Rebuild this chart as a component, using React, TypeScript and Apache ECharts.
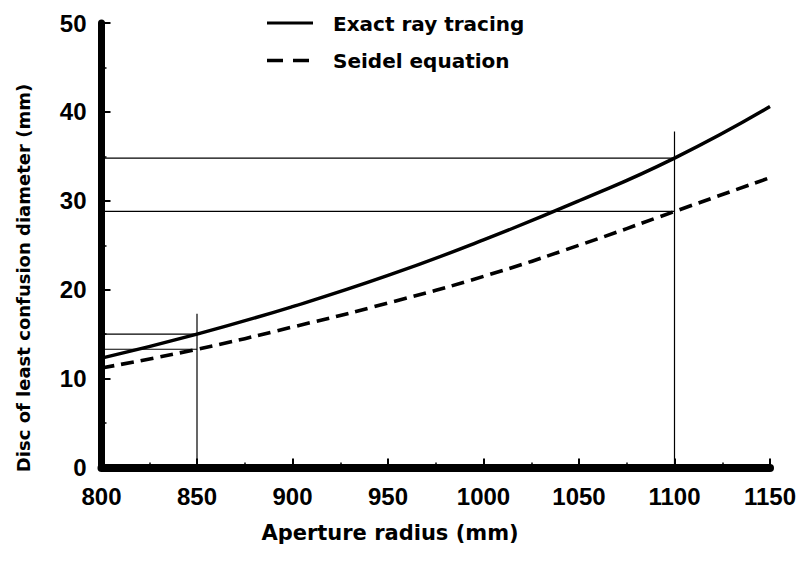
import React, { useEffect, useRef } from "react";
import * as echarts from "echarts";

const radii = [800, 850, 900, 950, 1000, 1050, 1100, 1150];
const exactRay = [12.3, 15.0, 18.1, 21.6, 25.6, 30.0, 34.8, 40.6];
const seidel = [11.2, 13.3, 15.8, 18.5, 21.5, 25.0, 28.8, 32.6];
const xTicks = [800, 850, 900, 950, 1000, 1050, 1100, 1150];
const yTicks = [0, 10, 20, 30, 40, 50];
const seriesNames = ["Exact ray tracing", "Seidel equation"];
const xAxisName = "Aperture radius (mm)";
const yAxisName = "Disc of least confusion diameter (mm)";

// reference guide lines: [x0, y0, x1, y1]
const guides: number[][] = [
  [850, 0, 850, 17.3],
  [1100, 0, 1100, 37.8],
  [800, 15.0, 850, 15.0],
  [800, 13.3, 850, 13.3],
  [800, 34.8, 1100, 34.8],
  [800, 28.8, 1100, 28.8],
];

const FONT = "'DejaVu Sans', 'Liberation Sans', sans-serif";
const NUMFONT = "'Liberation Sans', Arial, sans-serif";

export default function App() {
  const ref = useRef<HTMLDivElement>(null);
  useEffect(() => {
    if (!ref.current) return;
    const chart = echarts.init(ref.current, undefined, { renderer: "svg" });
    const guideSeries = guides.map((g, i) => ({
      name: "guide" + i,
      type: "line" as const,
      data: [
        [g[0], g[1]],
        [g[2], g[3]],
      ],
      symbol: "none",
      silent: true,
      lineStyle: { color: "#000", width: 1.2 },
      z: 1,
    }));
    chart.setOption({
      animation: false,
      backgroundColor: "#fff",
      grid: { left: 101.5, right: 36, top: 23, bottom: 97.5, containLabel: false },
      graphic: [
        {
          type: "line",
          shape: { x1: 267, y1: 23, x2: 313, y2: 23 },
          style: { stroke: "#000", lineWidth: 3.2 },
        },
        {
          type: "line",
          shape: { x1: 267, y1: 60.5, x2: 311, y2: 60.5 },
          style: { stroke: "#000", lineWidth: 3.6, lineDash: [16, 10] },
        },
        {
          type: "text",
          x: 333,
          y: 24,
          style: {
            text: seriesNames[0],
            font: `bold 20px ${FONT}`,
            fill: "#000",
            textAlign: "left",
            textVerticalAlign: "middle",
          },
        },
        {
          type: "text",
          x: 333,
          y: 61,
          style: {
            text: seriesNames[1],
            font: `bold 20px ${FONT}`,
            fill: "#000",
            textAlign: "left",
            textVerticalAlign: "middle",
          },
        },
        {
          type: "text",
          x: 390,
          y: 533,
          style: {
            text: xAxisName,
            font: `bold 21px ${FONT}`,
            fill: "#000",
            textAlign: "center",
            textVerticalAlign: "middle",
          },
        },
        {
          type: "text",
          x: 23,
          y: 278,
          rotation: Math.PI / 2,
          style: {
            text: yAxisName,
            font: `bold 18px ${FONT}`,
            fill: "#000",
            textAlign: "center",
            textVerticalAlign: "middle",
          },
        },
      ],
      xAxis: {
        type: "value",
        min: 800,
        max: 1150,
        interval: 50,
        axisLine: { lineStyle: { color: "#000", width: 8 } },
        axisTick: { inside: true, length: 9, lineStyle: { color: "#000", width: 2 } },
        minorTick: { show: true, splitNumber: 2, length: 5, lineStyle: { color: "#000", width: 1.5 } },
        axisLabel: {
          fontFamily: NUMFONT,
          fontSize: 24,
          fontWeight: "bold",
          color: "#000",
          margin: 17,
          formatter: (v: number) => (xTicks.includes(v) ? String(v) : ""),
        },
        splitLine: { show: false },
      },
      yAxis: {
        type: "value",
        min: 0,
        max: 50,
        interval: 10,
        axisLine: { show: true, lineStyle: { color: "#000", width: 7 } },
        axisTick: { show: true, inside: true, length: 9, lineStyle: { color: "#000", width: 2 } },
        minorTick: { show: true, splitNumber: 2, length: 5, lineStyle: { color: "#000", width: 1.5 } },
        axisLabel: {
          fontFamily: NUMFONT,
          fontSize: 24,
          fontWeight: "bold",
          color: "#000",
          margin: 15,
          formatter: (v: number) => (yTicks.includes(v) ? String(v) : ""),
        },
        splitLine: { show: false },
      },
      series: [
        ...guideSeries,
        {
          name: seriesNames[0],
          type: "line",
          data: radii.map((r, i) => [r, exactRay[i]]),
          smooth: true,
          symbol: "none",
          lineStyle: { color: "#000", width: 3.4, type: "solid" },
          z: 3,
        },
        {
          name: seriesNames[1],
          type: "line",
          data: radii.map((r, i) => [r, seidel[i]]),
          smooth: true,
          symbol: "none",
          lineStyle: { color: "#000", width: 3.6, type: [13, 7] },
          z: 3,
        },
      ],
    });
    return () => chart.dispose();
  }, []);
  return <div ref={ref} style={{ width: 806, height: 565, position: "absolute", left: 0, top: 0 }} />;
}
